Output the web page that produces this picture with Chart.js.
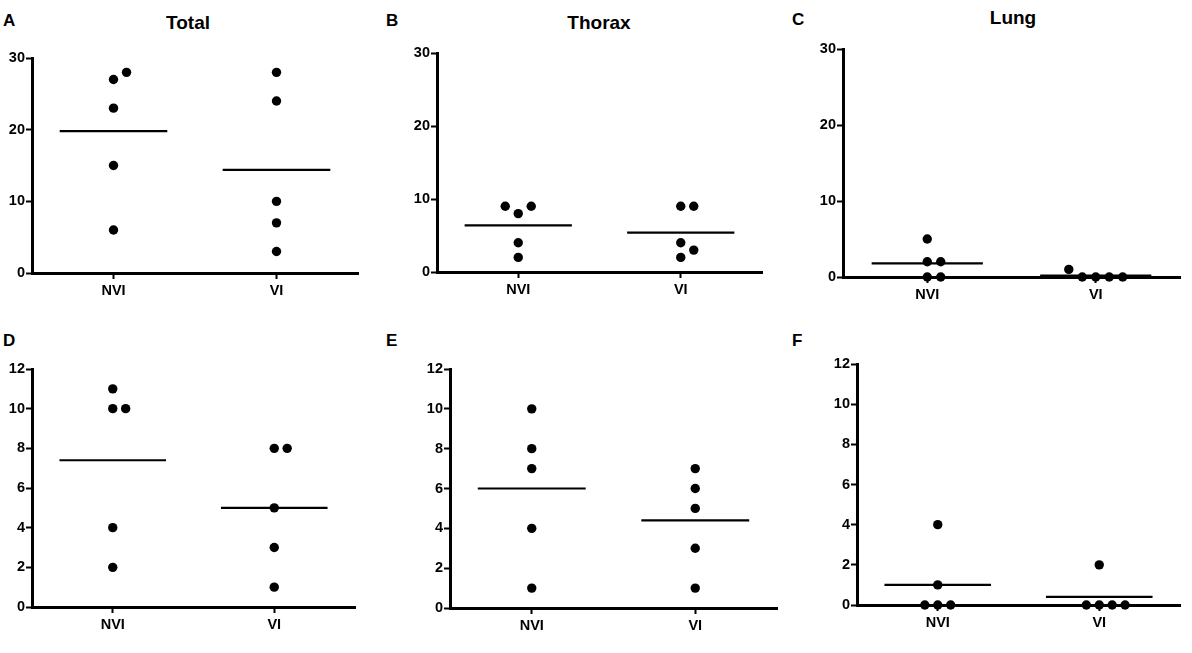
<!DOCTYPE html>
<html>
<head>
<meta charset="utf-8">
<script src="https://cdn.jsdelivr.net/npm/chart.js@4.4.1/dist/chart.umd.min.js"></script>
<style>
  body { margin: 0; background: #fff; }
  #wrap { position: relative; width: 1192px; height: 653px; overflow: hidden; background: #fff; }
  canvas { position: absolute; }
  .lbl { position: absolute; font-family: "Liberation Sans", Arial, sans-serif; font-weight: bold; color: #000; line-height: 1; }
  .letter { font-size: 17px; }
  .title { font-size: 19px; transform: translateX(-50%); }
</style>
</head>
<body>
<div id="wrap"></div>
<script>
// Groups on the x axis
const categories = ['NVI', 'VI'];

// Panel titles and letters
const panelLetters = ['A', 'B', 'C', 'D', 'E', 'F'];
const panelTitles = ['Total', 'Thorax', 'Lung', '', '', ''];

// Values per panel
const totalNVI = [28, 27, 23, 15, 6];
const totalVI = [28, 24, 10, 7, 3];
const thoraxNVI = [9, 8, 9, 4, 2];
const thoraxVI = [9, 9, 4, 3, 2];
const lungNVI = [5, 2, 2, 0, 0];
const lungVI = [1, 0, 0, 0, 0];
const dNVI = [11, 10, 10, 4, 2];
const dVI = [8, 8, 5, 3, 1];
const eNVI = [10, 8, 7, 4, 1];
const eVI = [7, 6, 5, 3, 1];
const fNVI = [4, 1, 0, 0, 0];
const fVI = [2, 0, 0, 0, 0];

// y axis ranges
const topMax = 30, topStep = 10;
const bottomMax = 12, bottomStep = 2;

const wrap = document.getElementById('wrap');
const FONT = { family: '"Liberation Sans", Arial, sans-serif', weight: 'bold', size: 14.5 };
const SLOT = 0.16;      // horizontal spacing between dots that would overlap (x units)
const HALF_MEAN = 0.66; // half width of the mean line (x units)
const Y_W = 32, X_H = 30, PAD_T = 10, PAD_R = 10;

// spread dots that would overlap into side slots, like a column scatter
function placeDots(values, center, yMax) {
    const thr = yMax * 0.042;
    const placed = [];
    [...values].sort((a, b) => a - b).forEach(v => {
        for (let k = 0; ; k++) {
            const slot = k === 0 ? 0 : (k % 2 === 1 ? (k + 1) / 2 : -k / 2);
            const hit = placed.some(p => p.slot === slot && Math.abs(p.y - v) < thr);
            if (!hit) { placed.push({ slot, y: v }); break; }
        }
    });
    return placed.map(p => ({ x: center + p.slot * SLOT, y: p.y }));
}

function mean(arr) {
    return arr.reduce((s, v) => s + v, 0) / arr.length;
}

function meanLine(values, center) {
    const m = mean(values);
    return [{ x: center - HALF_MEAN, y: m }, { x: center + HALF_MEAN, y: m }];
}

function addText(cls, text, x, y) {
    const d = document.createElement('div');
    d.className = 'lbl ' + cls;
    d.textContent = text;
    d.style.left = x + 'px';
    d.style.top = y + 'px';
    wrap.appendChild(d);
}

// box = chart area edges in page pixels: left (y axis), top, bottom (x axis), right
function makePanel(box, nvi, vi, yMax, yStep) {
    const canvas = document.createElement('canvas');
    const w = box.right - box.left + Y_W + PAD_R;
    const h = box.bottom - box.top + PAD_T + X_H;
    canvas.width = w;
    canvas.height = h;
    canvas.style.left = (box.left - Y_W) + 'px';
    canvas.style.top = (box.top - PAD_T) + 'px';
    canvas.style.width = w + 'px';
    canvas.style.height = h + 'px';
    wrap.appendChild(canvas);

    const dots = [...placeDots(nvi, 1, yMax), ...placeDots(vi, 3, yMax)];

    const lineSet = data => ({
        data: data,
        showLine: true,
        borderColor: '#000',
        borderWidth: 2.2,
        pointRadius: 0,
        clip: false
    });

    new Chart(canvas.getContext('2d'), {
        type: 'scatter',
        data: {
            datasets: [
                lineSet(meanLine(nvi, 1)),
                lineSet(meanLine(vi, 3)),
                {
                    data: dots,
                    backgroundColor: '#000',
                    borderWidth: 0,
                    pointRadius: 4.7,
                    pointHoverRadius: 4.7,
                    clip: false
                }
            ]
        },
        options: {
            responsive: false,
            animation: false,
            layout: { padding: { top: PAD_T, right: PAD_R, left: 0, bottom: 0 } },
            plugins: { legend: { display: false }, tooltip: { enabled: false } },
            scales: {
                x: {
                    type: 'linear',
                    min: 0,
                    max: 4,
                    afterBuildTicks: s => { s.ticks = [{ value: 1 }, { value: 3 }]; },
                    afterFit: s => { s.height = X_H; },
                    ticks: {
                        callback: v => categories[v === 1 ? 0 : 1],
                        color: '#000',
                        font: FONT,
                        padding: 3,
                        maxRotation: 0,
                        autoSkip: false
                    },
                    grid: { drawOnChartArea: false, drawTicks: true, tickLength: 6, tickWidth: 2, tickColor: '#000' },
                    border: { display: true, color: '#000', width: 3 }
                },
                y: {
                    min: 0,
                    max: yMax,
                    afterFit: s => { s.width = Y_W; },
                    ticks: { stepSize: yStep, color: '#000', font: FONT, padding: 1 },
                    grid: { drawOnChartArea: false, drawTicks: true, tickLength: 6, tickWidth: 2, tickColor: '#000' },
                    border: { display: true, color: '#000', width: 3 }
                }
            }
        }
    });
}

makePanel({ left: 32, top: 58, bottom: 273, right: 358 }, totalNVI, totalVI, topMax, topStep);
makePanel({ left: 437, top: 53, bottom: 272, right: 762 }, thoraxNVI, thoraxVI, topMax, topStep);
makePanel({ left: 843, top: 49, bottom: 277, right: 1180 }, lungNVI, lungVI, topMax, topStep);
makePanel({ left: 32, top: 369, bottom: 607, right: 355 }, dNVI, dVI, bottomMax, bottomStep);
makePanel({ left: 450, top: 369, bottom: 608, right: 777 }, eNVI, eVI, bottomMax, bottomStep);
makePanel({ left: 857, top: 364, bottom: 605, right: 1180 }, fNVI, fVI, bottomMax, bottomStep);

// panel letters
const letterPos = [[3, 12], [386, 12], [792, 11], [3, 332], [386, 332], [792, 332]];
panelLetters.forEach((t, i) => addText('letter', t, letterPos[i][0], letterPos[i][1]));

// panel titles
const titlePos = [[188, 13], [599, 13], [1013, 8]];
panelTitles.forEach((t, i) => { if (t) addText('title', t, titlePos[i][0], titlePos[i][1]); });
</script>
</body>
</html>
